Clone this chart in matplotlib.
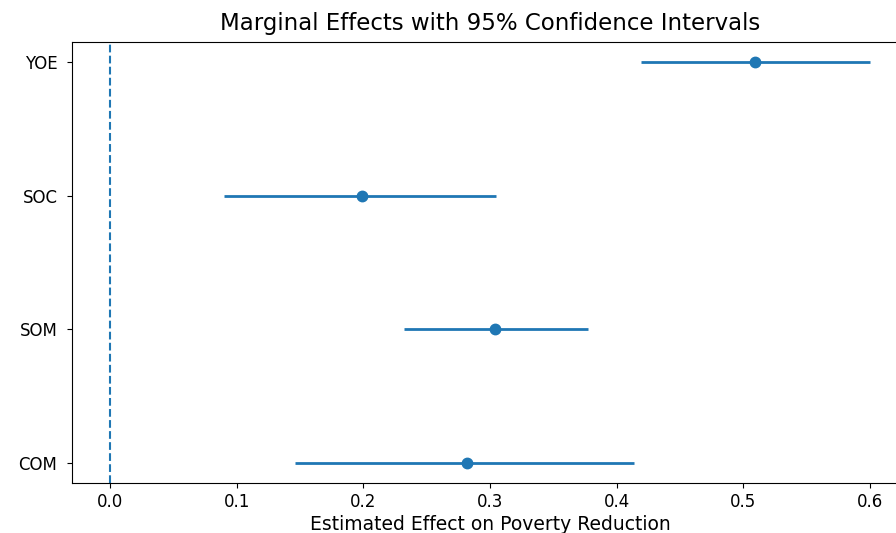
import matplotlib.pyplot as plt

# Estimates
variables = ["COM", "SOM", "SOC", "YOE"]
effects = [0.282, 0.304, 0.199, 0.509]
ci_low = [0.146, 0.232, 0.090, 0.419]
ci_high = [0.414, 0.377, 0.305, 0.600]

err_low = [e - lo for e, lo in zip(effects, ci_low)]
err_high = [hi - e for e, hi in zip(effects, ci_high)]

fig = plt.figure(figsize=(8.96, 5.33), dpi=100)
# the original is cropped on the right, so the axes runs past the edge
ax = fig.add_axes([0.0804, 0.0938, 0.933, 0.8274])

ax.errorbar(effects, range(len(variables)), xerr=[err_low, err_high],
            fmt='o', color='C0', ecolor='C0', elinewidth=2, markersize=7.5)
ax.axvline(0, color='C0', linestyle='--', linewidth=1.5)

ax.set_yticks(range(len(variables)))
ax.set_yticklabels(variables)
ax.set_xlabel("Estimated Effect on Poverty Reduction", fontsize=13.5, labelpad=3)
ax.set_title("Marginal Effects with 95% Confidence Intervals", fontsize=16.5, pad=9)
ax.tick_params(labelsize=12)
ax.tick_params(axis='y', pad=7)

fig.savefig("out.png", dpi=100)
